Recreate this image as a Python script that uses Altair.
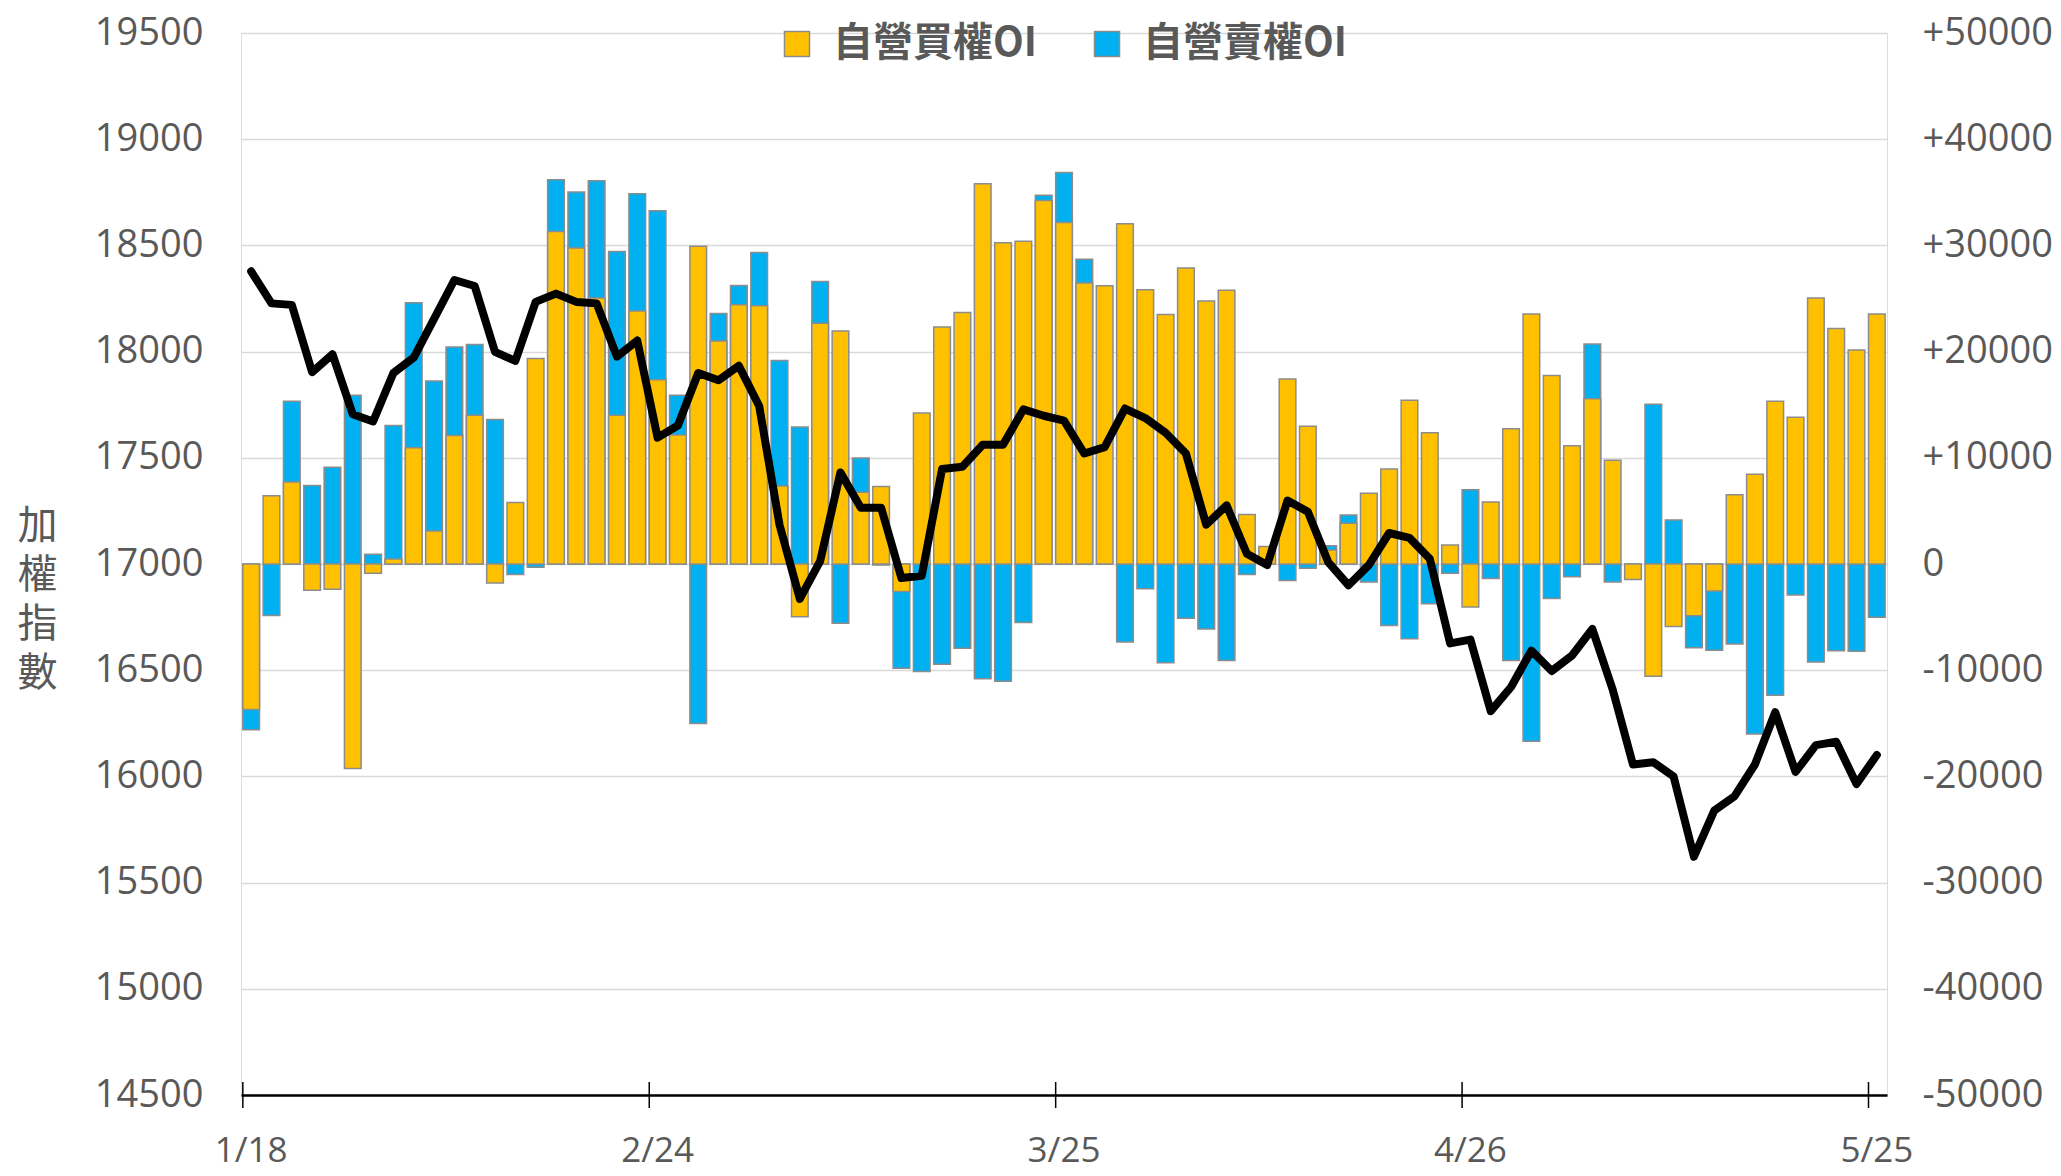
import altair as alt
import pandas as pd

# ---------------- data ----------------
dates = [
    "1/18", "1/19", "1/20", "1/21", "1/24", "1/25", "1/26",
    "2/7", "2/8", "2/9", "2/10", "2/11", "2/14", "2/15", "2/16", "2/17", "2/18",
    "2/21", "2/22", "2/23", "2/24", "2/25",
    "3/1", "3/2", "3/3", "3/4", "3/7", "3/8", "3/9", "3/10", "3/11",
    "3/14", "3/15", "3/16", "3/17", "3/18", "3/21", "3/22", "3/23", "3/24", "3/25",
    "3/28", "3/29", "3/30", "3/31",
    "4/1", "4/6", "4/7", "4/8", "4/11", "4/12", "4/13", "4/14", "4/15",
    "4/18", "4/19", "4/20", "4/21", "4/22", "4/25", "4/26", "4/27", "4/28", "4/29",
    "5/3", "5/4", "5/5", "5/6", "5/9", "5/10", "5/11", "5/12", "5/13",
    "5/16", "5/17", "5/18", "5/19", "5/20", "5/23", "5/24", "5/25",
]

index_vals = [
    18378, 18227, 18220, 17903, 17988, 17705, 17671,
    17899, 17972, 18154, 18337, 18309, 17999, 17956, 18234, 18273, 18234,
    18227, 17976, 18052, 17595, 17652,
    17899, 17865, 17933, 17744, 17185, 16836, 17014, 17431, 17265,
    17265, 16934, 16945, 17447, 17458, 17561, 17561, 17728, 17698, 17675,
    17520, 17550, 17732, 17687,
    17618, 17520, 17185, 17276, 17048, 16995, 17299, 17246, 17009,
    16900, 16995, 17146, 17123, 17025, 16626, 16644, 16307, 16421, 16592,
    16496, 16569, 16694, 16409, 16056, 16067, 15999, 15622, 15839,
    15907, 16056, 16302, 16021, 16147, 16163, 15964, 16101,
]

call_oi = [
    -13690, 6430, 7710, -2460, -2370, -19250, -870,
    460, 10950, 3100, 12090, 14010, -1780, 5790, 19340, 31300, 29750,
    25050, 14010, 23820, 17340, 12140,
    29930, 20990, 24410, 24320, 7350, -4970, 22670, 21940, 6750,
    7300, -2600, 14230, 22310, 23680, 35810, 30250, 30380, 34220, 32160,
    26460, 26190, 32030, 25820,
    23490, 27870, 24770, 25780, 4650, 1640, 17430, 12960, 1320,
    3830, 6660, 8940, 15420, 12360, 1780, -4060, 5840, 12730, 23540,
    17750, 11130, 15560, 9760, -1460, -10580, -5880, -4880, -2550,
    6520, 8440, 15330, 13820, 25050, 22170, 20160, 23540,
]

put_oi = [
    -15600, -4840, 15330, 7390, 9120, 15880, 910,
    13050, 24590, 17240, 20440, 20670, 13600, -1000, -300, 36180, 35040,
    36090, 29430, 34860, 33260, 15880,
    -15010, 23590, 26230, 29340, 19160, 12910, 26600, -5570, 9990,
    -100, -9810, -10130, -9440, -7940, -10810, -11040, -5520, 34720, 36860,
    28690, 0, -7350, -2330,
    -9310, -5110, -6110, -9080, -1000, 0, -1550, -410, 1730,
    4610, -1690, -5790, -7030, -3740, -870, 6980, -1370, -9080, -16700,
    -3240, -1190, 20710, -1690, 0, 15050, 4150, -7890, -8120,
    -7530, -16010, -12360, -2920, -9220, -8170, -8210, -5020,
]

tick_dates = ["1/18", "2/24", "3/25", "4/26", "5/25"]
left_ticks = [14500, 15000, 15500, 16000, 16500, 17000, 17500, 18000, 18500, 19000, 19500]
right_ticks = [-50000, -40000, -30000, -20000, -10000, 0, 10000, 20000, 30000, 40000, 50000]

CALL = "自營買權OI"
PUT = "自營賣權OI"
series_names = [CALL, PUT]
series_colors = ["#FFC000", "#00B0F0"]
y_title = ["加", "權", "指", "數"]

df = pd.DataFrame({"date": dates, "index": index_vals, PUT: put_oi, CALL: call_oi})
df["tick"] = df["date"].isin(tick_dates)

# ---------------- layout / style ----------------
W, H = 1646, 1062
FONT = "Open Sans"
CJK = "Noto Sans CJK TC"
TXT = "#595959"

x_scale = alt.Scale(paddingInner=0.18, paddingOuter=0.09)
x_axis = alt.Axis(
    values=tick_dates, labelAngle=0, ticks=False, grid=False,
    domainColor="black", domainWidth=2.5,
    labelFont=FONT, labelFontSize=35, labelColor=TXT, labelPadding=38, title=None,
)

base = alt.Chart(df)

bars = base.transform_fold([PUT, CALL], as_=["series", "oi"]).mark_bar(
    stroke="#8c8c8c", strokeWidth=1.5
).encode(
    x=alt.X("date:N", sort=dates, scale=x_scale, axis=x_axis),
    y=alt.Y(
        "oi:Q", stack=None,
        scale=alt.Scale(domain=[-50000, 50000], nice=False, zero=False),
        axis=alt.Axis(
            orient="right", values=right_ticks,
            labelExpr="datum.value > 0 ? '+' + datum.value : '' + datum.value",
            grid=False, domain=False, ticks=False,
            labelFont=FONT, labelFontSize=38, labelColor=TXT, labelPadding=35, title=None,
        ),
    ),
    color=alt.Color(
        "series:N",
        scale=alt.Scale(domain=series_names, range=series_colors),
        legend=alt.Legend(
            orient="none", legendX=536, legendY=-9, direction="horizontal", title=None,
            padding=0, labelLimit=0,
            symbolType="square", symbolSize=625, symbolStrokeColor="#8c8c8c",
            symbolStrokeWidth=1.5, symbolOpacity=1,
            labelFont=CJK, labelFontSize=40, labelFontWeight="bold", labelColor=TXT,
            labelOffset=16, columnPadding=50,
        ),
    ),
)

line = base.mark_line(color="black", strokeWidth=8, strokeJoin="round", strokeCap="round").encode(
    x=alt.X("date:N", sort=dates, scale=x_scale, axis=x_axis),
    y=alt.Y(
        "index:Q",
        scale=alt.Scale(domain=[14500, 19500], nice=False, zero=False),
        axis=alt.Axis(
            orient="left", values=left_ticks, format="d",
            grid=True, gridColor="#d9d9d9", gridWidth=1.5,
            domain=False, ticks=False,
            labelFont=FONT, labelFontSize=38, labelColor=TXT, labelPadding=38,
            title=y_title, titleFont=CJK, titleFontSize=40, titleFontWeight="normal",
            titleColor=TXT, titleAngle=0, titleX=-204, titleY=493,
            titleAlign="center", titleBaseline="middle", titleLineHeight=49,
        ),
    ),
)

ticks = base.transform_filter("datum.tick").mark_rule(color="black", strokeWidth=1.5).encode(
    x=alt.X("date:N", sort=dates, bandPosition=0, scale=x_scale, axis=x_axis),
    y=alt.value(H - 13),
    y2=alt.value(H + 13),
)

chart = alt.layer(bars, line, ticks).resolve_scale(y="independent").properties(
    width=W, height=H,
    autosize=alt.AutoSizeParams(type="none"),
    padding={"left": 233, "top": 25, "right": 166, "bottom": 73},
).configure_view(stroke=None).configure(background="white")

chart.save("out.html", embed_options={"renderer": "svg", "actions": False})
